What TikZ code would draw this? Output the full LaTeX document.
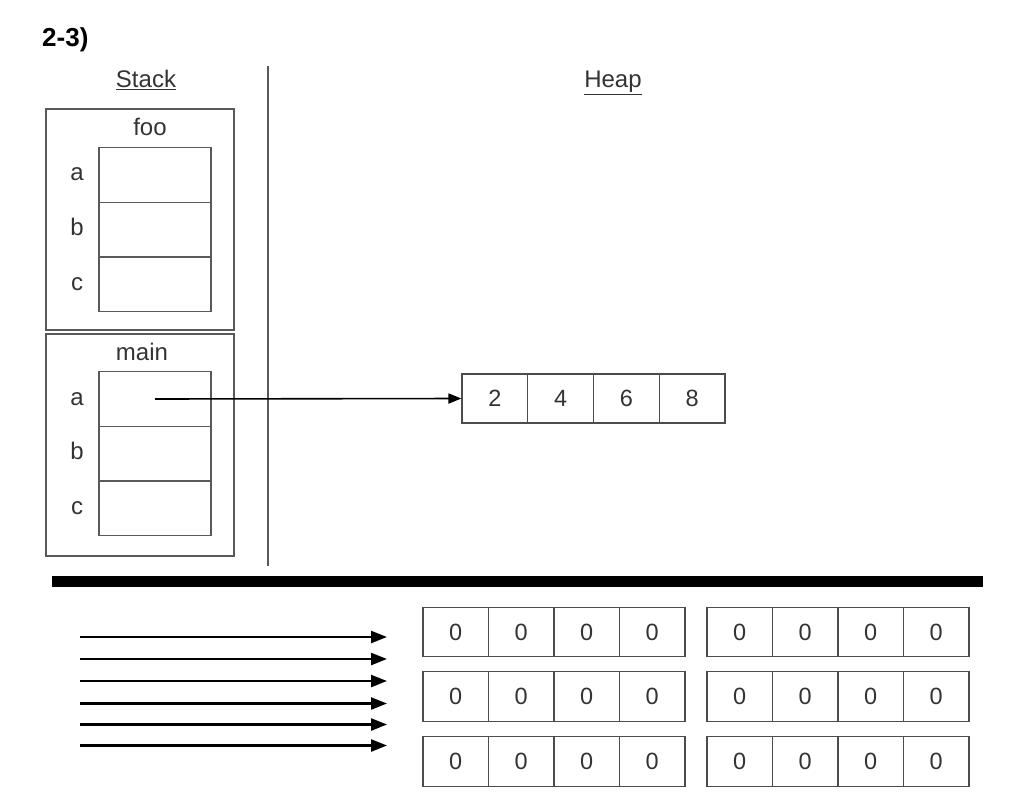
\documentclass[tikz,border=0pt]{standalone}
\usepackage{fontspec}
\setmainfont{Liberation Sans}
\usetikzlibrary{arrows.meta}
\begin{document}
\begin{tikzpicture}[x=1pt,y=-1pt,
  frame/.style={draw=black!65, line width=1.3pt, minimum width=188pt, minimum height=221pt, inner sep=0pt},
  cell/.style={draw=black!65, line width=1.3pt, minimum width=112pt, minimum height=54.7pt, inner sep=0pt},
  acell/.style={draw=black!70, line width=1.3pt, minimum width=65.6pt, minimum height=49pt, inner sep=0pt, font=\fontsize{23.5}{27}\selectfont, text=black!80},
  lbl/.style={font=\fontsize{24}{28}\selectfont, text=black!80, inner sep=0pt, anchor=base},
  ptr/.style={line width=1.6pt, -{Triangle[length=13pt,width=10pt]}},
  bigarrow/.style={line width=2.4pt, -{Triangle[length=16pt,width=12pt]}},
  sep/.style={draw=black!65, line width=1.3pt}
]
\useasboundingbox (0,0) rectangle (1024,808);

\node[font=\bfseries\fontsize{26}{30}\selectfont, anchor=base west, inner sep=0pt] (title) at (42,47) {2-3)};
\node[lbl] (stack) at (146,87.5) {\underline{Stack}};
\node[lbl] (heap) at (613,87.5) {\underline{Heap}};

\coordinate (vtop) at (268,66);
\coordinate (vbot) at (268,566);
\draw[sep] (vtop) -- (vbot);

% foo frame
\node[frame] (foo) at (140,219.5) {};
\node[lbl] (foolbl) at (150,135) {foo};
\node[cell] (fa) at (155,175) {};
\node[cell] (fb) at (155,229.6) {};
\node[cell] (fc) at (155,284.3) {};
\node[lbl] (fal) at (77,180.5) {a};
\node[lbl] (fbl) at (77,235) {b};
\node[lbl] (fcl) at (77,290) {c};

% main frame
\node[frame, minimum height=222pt] (main) at (140,445) {};
\node[lbl] (mainlbl) at (142,360) {main};
\node[cell] (ma) at (155,399) {};
\node[cell] (mb) at (155,453.6) {};
\node[cell] (mc) at (155,508.3) {};
\node[lbl] (mal) at (77,405) {a};
\node[lbl] (mbl) at (77,459.5) {b};
\node[lbl] (mcl) at (77,514.5) {c};

% heap array
\node[acell] (h1) at (494.9,398.5) {2};
\node[acell] (h2) at (560.6,398.5) {4};
\node[acell] (h3) at (626.4,398.5) {6};
\node[acell] (h4) at (692.1,398.5) {8};

\coordinate (ptrstart) at (155,399);
\draw[ptr] (ptrstart) -- (h1.west);

% thick divider
\coordinate (dl) at (52,581);
\coordinate (dr) at (983,581);
\draw[line width=11pt] (dl) -- (dr);

% six arrows
\foreach \i/\y in {1/637,2/659,3/681,4/703.5,5/724.5,6/745.5}{
  \coordinate (s\i) at (80,\y);
  \coordinate (e\i) at (387,\y);
  \draw[bigarrow] (s\i) -- (e\i);
}

% zero grids
\foreach \r/\y in {1/632,2/696.5,3/761.5}{
  \foreach \c in {0,1,2,3}{
    \node[acell, minimum width=65.5pt, minimum height=49.5pt] (L\r\c) at ({423+65.5*(\c+0.5)},\y) {0};
    \node[acell, minimum width=65.5pt, minimum height=49.5pt] (R\r\c) at ({707+65.5*(\c+0.5)},\y) {0};
  }
}
\end{tikzpicture}
\end{document}
